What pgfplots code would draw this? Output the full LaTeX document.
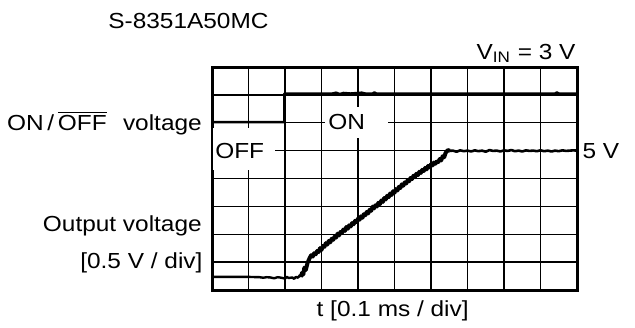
\documentclass[border=0pt]{standalone}
\usepackage{fontspec}
\setmainfont{Liberation Sans}[FakeStretch=1.12]
\usepackage{pgfplots}
\pgfplotsset{compat=1.18}
\pgfplotstableread{
x y
0 0.47
0.5 0.47
1.0 0.47
1.3 0.46
1.4 0.44
1.5 0.46
1.6 0.45
1.7 0.42
1.8 0.46
1.9 0.44
2.0 0.41
2.05 0.47
2.1 0.43
2.2 0.45
2.25 0.40
2.3 0.47
2.35 0.44
2.4 0.52
2.43 0.47
}\baseline
\pgfplotstableread{
x y
2.43 0.47
2.47 0.62
2.5 0.55
2.53 0.80
2.57 0.72
2.62 0.98
2.68 1.16
2.72 1.25
2.76 1.20
2.80 1.32
2.84 1.28
2.88 1.40
2.92 1.36
2.96 1.50
3.00 1.44
3.04 1.58
3.08 1.55
3.12 1.68
3.16 1.63
3.20 1.76
3.24 1.71
3.28 1.84
3.32 1.80
3.36 1.92
3.40 1.88
3.44 2.02
3.48 1.96
3.52 2.08
3.56 2.05
3.60 2.17
3.64 2.12
3.68 2.26
3.72 2.20
3.76 2.32
3.80 2.28
3.84 2.40
3.88 2.36
3.92 2.48
3.96 2.44
4.00 2.56
4.04 2.52
4.08 2.64
4.12 2.59
4.16 2.72
4.20 2.68
4.24 2.80
4.28 2.75
4.32 2.88
4.36 2.84
4.40 2.99
4.44 2.93
4.48 3.04
4.52 3.00
4.56 3.13
4.60 3.08
4.64 3.21
4.68 3.16
4.72 3.30
4.76 3.25
4.80 3.38
4.84 3.33
4.88 3.46
4.92 3.41
4.96 3.54
5.00 3.49
5.04 3.62
5.08 3.57
5.12 3.70
5.16 3.66
5.20 3.79
5.24 3.74
5.28 3.86
5.32 3.82
5.36 3.94
5.40 3.90
5.44 4.02
5.48 3.98
5.52 4.10
5.56 4.05
5.60 4.17
5.64 4.12
5.68 4.24
5.72 4.20
5.76 4.31
5.80 4.27
5.84 4.38
5.88 4.33
5.92 4.45
5.96 4.40
6.00 4.51
6.04 4.47
6.08 4.57
6.12 4.53
6.16 4.62
6.20 4.59
6.24 4.70
6.28 4.65
6.32 4.80
6.36 4.76
6.40 4.92
6.46 5.02
6.52 4.99
}\rise
\pgfplotstableread{
x y
6.52 4.99
6.6 5.00
6.7 4.96
6.8 5.01
6.9 4.98
7.0 5.00
7.1 4.97
7.2 5.01
7.3 4.98
7.4 5.00
7.5 4.96
7.6 5.02
7.7 4.99
7.8 5.00
7.9 4.97
8.0 5.01
8.1 4.99
8.2 5.02
8.3 4.98
8.4 5.00
8.5 4.97
8.6 5.01
8.7 4.99
8.8 5.00
8.9 4.98
9.0 5.01
9.1 4.98
9.2 5.00
9.3 4.97
9.4 5.00
9.5 4.98
9.6 5.01
9.7 4.99
9.8 5.00
9.9 5.01
10 5.00
}\flat
\pgfplotstableread{
x y
0 6.02
1.98 6.02
1.98 7.05
3.3 7.05
3.4 7.08
3.5 7.03
3.6 7.07
3.8 7.05
4.1 7.08
4.2 7.05
4.4 7.05
4.45 7.09
4.5 7.05
9.4 7.05
9.45 7.09
9.5 7.05
10 7.05
}\onoff
\begin{document}
\begin{tikzpicture}[font=\fontsize{10.9}{13}\selectfont]
\useasboundingbox (-106pt,-18.5pt) rectangle (211.5pt,145pt);
\begin{axis}[
  scale only axis, width=182.5pt, height=111.5pt,
  at={(0,0)}, anchor=south west,
  xmin=0, xmax=10, ymin=0, ymax=8,
  xtick={0,...,10}, ytick={0,...,8},
  xticklabels={}, yticklabels={},
  major tick length=0pt,
  grid=major, grid style={black, line width=0.65pt},
  axis line style={line width=1.5pt},
  clip=false,
]
\fill[white] (axis cs:0.04,4.3) rectangle (axis cs:1.73,5.8);
\fill[white] (axis cs:3.1,5.45) rectangle (axis cs:4.82,6.55);
\addplot[black, line width=1.2pt, line join=round] table[x=x,y=y] {\onoff};
\addplot[black, line width=1.2pt, line join=round] table[x=x,y=y] {\baseline};
\addplot[black, line width=2.0pt, line join=round] table[x=x,y=y] {\rise};
\addplot[black, line width=1.3pt, line join=round] table[x=x,y=y] {\flat};
\node[anchor=west, inner sep=0pt] at (axis cs:0.08,5) {OFF};
\node[anchor=west, inner sep=0pt] at (axis cs:3.18,6.03) {ON};
\node[anchor=east, inner sep=0pt] at (axis cs:-0.27,5.98) {ON\,/\,$\overline{\mbox{OFF}}$\hspace{0.75em}voltage};
\node[anchor=east, inner sep=0pt] at (axis cs:-0.27,2.3) {Output voltage};
\node[anchor=east, inner sep=0pt] at (axis cs:-0.25,0.97) {[0.5 V / div]};
\node[anchor=west, inner sep=0pt] at (axis cs:10.14,5) {5 V};
\node[anchor=east, inner sep=0pt] at (axis cs:9.97,8.5) {V\textsubscript{IN} = 3 V};
\node[anchor=west, inner sep=0pt] at (axis cs:-2.85,9.65) {S-8351A50MC};
\node[inner sep=0pt] at (axis cs:4.95,-0.74) {t [0.1 ms / div]};
\end{axis}
\end{tikzpicture}
\end{document}
